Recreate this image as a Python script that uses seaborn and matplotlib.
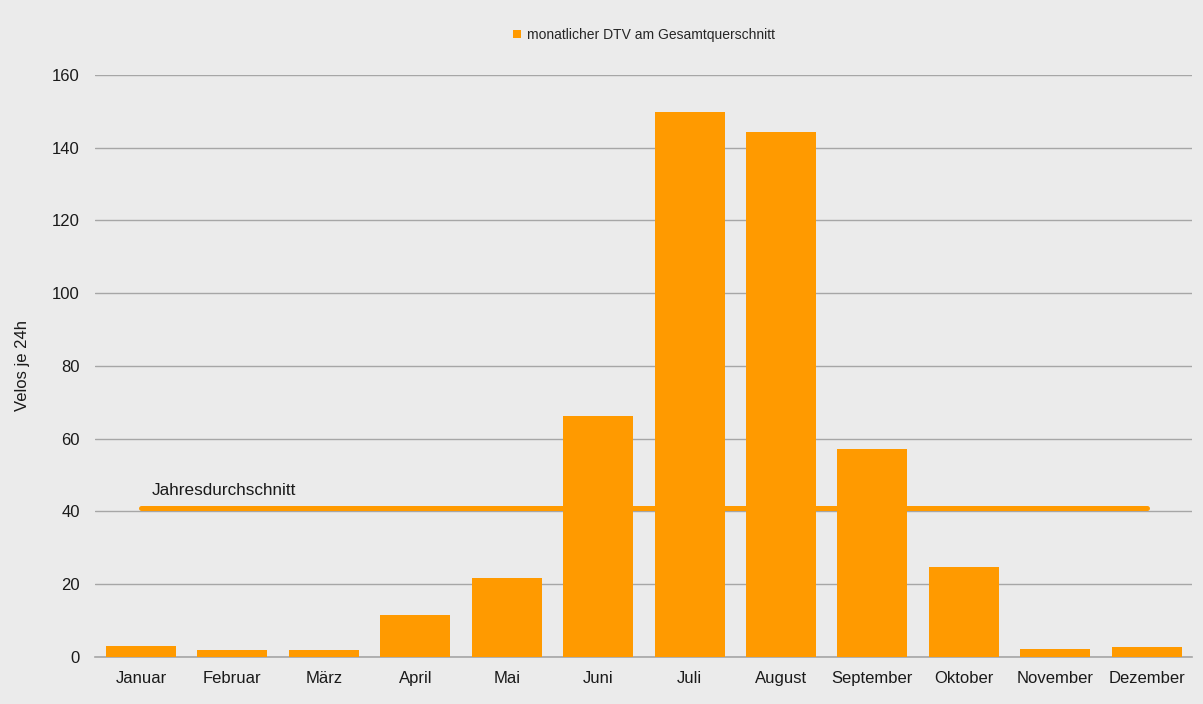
import matplotlib
matplotlib.use("Agg")
import matplotlib.pyplot as plt
import seaborn as sns
import pandas as pd

months = ["Januar", "Februar", "März", "April", "Mai", "Juni", "Juli",
          "August", "September", "Oktober", "November", "Dezember"]
dtv = [3.0, 1.9, 1.9, 11.5, 21.7, 66.3, 149.8, 144.3, 57.2, 24.7, 2.2, 2.7]
jahresmittel = 41.0

bg = "#EBEBEB"
orange = "#FF9A00"

sns.set_theme(style="white")
plt.rcParams["font.family"] = ["Liberation Sans", "DejaVu Sans"]

df = pd.DataFrame({"Monat": months, "DTV": dtv})

fig = plt.figure(figsize=(12.03, 7.04), dpi=100, facecolor=bg)
ax = fig.add_axes([0.0792, 0.0668, 0.912, 0.8267])
ax.set_facecolor(bg)

sns.barplot(data=df, x="Monat", y="DTV", color=orange, saturation=1,
            width=0.765, ax=ax, label="monatlicher DTV am Gesamtquerschnitt",
            edgecolor="none", linewidth=0, zorder=3)

ax.plot([0, len(months) - 1], [jahresmittel, jahresmittel], color=orange,
        lw=3.6, solid_capstyle="round", zorder=2.5)
ax.text(0.12, jahresmittel + 3.5, "Jahresdurchschnitt", fontsize=12.3, color="#1a1a1a")

ax.set_ylim(0, 160)
ax.set_xlim(-0.5, len(months) - 0.5)
ax.set_yticks(range(0, 161, 20))
ax.yaxis.grid(True, color="#A6A6A6", lw=1, zorder=0)
ax.set_axisbelow(True)
for s in ["top", "right", "left"]:
    ax.spines[s].set_visible(False)
ax.spines["bottom"].set_color("#A6A6A6")
ax.spines["bottom"].set_linewidth(1.2)
ax.tick_params(axis="both", length=0, labelsize=12, colors="#1a1a1a")
ax.tick_params(axis="y", pad=11)
ax.tick_params(axis="x", pad=10)
ax.set_xlabel("")
ax.set_ylabel("Velos je 24h", fontsize=12, color="#1a1a1a", labelpad=16)

leg = ax.legend(loc="center", bbox_to_anchor=(0.5, 1.069), frameon=False,
                fontsize=10, handlelength=0.6, handleheight=0.6, handletextpad=0.4)

fig.savefig("out.png", dpi=100, facecolor=bg)
